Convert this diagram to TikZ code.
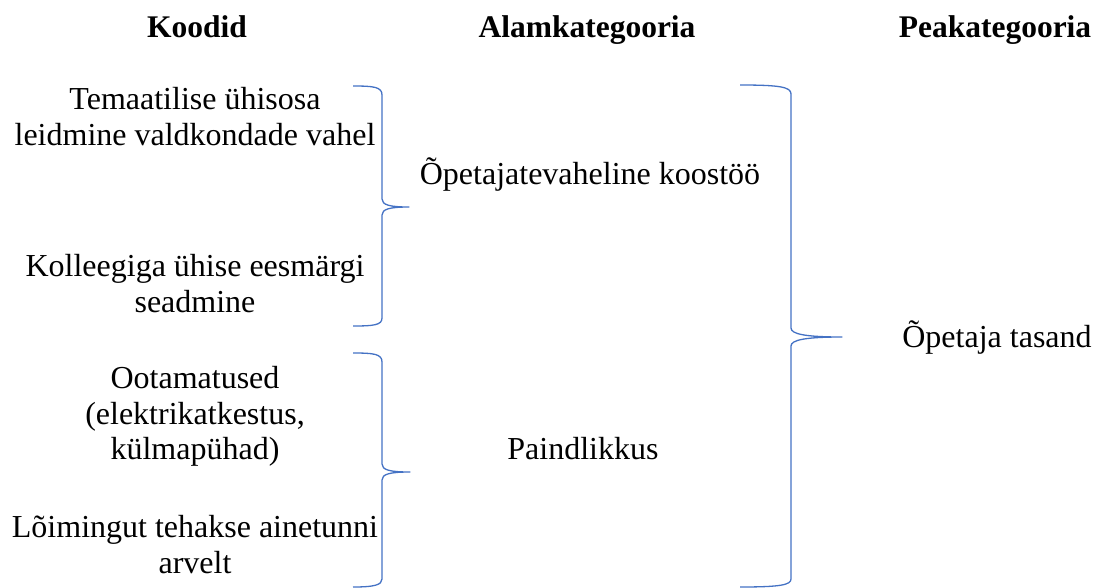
\documentclass[tikz,border=0pt]{standalone}
\usepackage{fontspec}
\setmainfont{Liberation Serif}
\definecolor{bracecol}{RGB}{68,114,196}
\begin{document}
\begin{tikzpicture}[x=1pt,y=-1pt,
  txt/.style={anchor=base,inner sep=0pt,font=\rmfamily\fontsize{32}{36}\selectfont},
  head/.style={anchor=base,inner sep=0pt,font=\rmfamily\fontsize{31.5}{36}\selectfont\bfseries},
  brace/.style={draw=bracecol,line width=1.3pt,line join=round}]
\useasboundingbox (0,0) rectangle (1096,587);
% headers
\node[head] (h1) at (197,37) {Koodid};
\node[head] (h2) at (587,37) {Alamkategooria};
\node[head] (h3) at (995,37) {Peakategooria};
% codes
\node[txt] (c1a) at (195,109) {Temaatilise ühisosa};
\node[txt] (c1b) at (195,145) {leidmine valdkondade vahel};
\node[txt] (c2a) at (195,276) {Kolleegiga ühise eesmärgi};
\node[txt] (c2b) at (195,312) {seadmine};
\node[txt] (c3a) at (195,388) {Ootamatused};
\node[txt] (c3b) at (195,424) {(elektrikatkestus,};
\node[txt] (c3c) at (195,459) {külmapühad)};
\node[txt] (c4a) at (195,537) {Lõimingut tehakse ainetunni};
\node[txt] (c4b) at (195,573) {arvelt};
% subcategories
\node[txt] (s1) at (590,184) {Õpetajatevaheline koostöö};
\node[txt] (s2) at (583,459) {Paindlikkus};
% main category
\node[txt] (m1) at (997,347) {Õpetaja tasand};
% braces
\draw[brace] (353,86) .. controls (374,86) and (382,87) .. (382,95)
  -- (382,199) .. controls (382,205) and (390,207) .. (409,207)
  .. controls (390,207) and (382,209) .. (382,215)
  -- (382,318) .. controls (382,325) and (374,326) .. (353,326);
\draw[brace] (353,353) .. controls (374,353) and (382,354) .. (382,362)
  -- (382,464) .. controls (382,470) and (390,472) .. (410,472)
  .. controls (390,472) and (382,474) .. (382,480)
  -- (382,579) .. controls (382,585) and (374,587) .. (353,587);
\draw[brace] (740,85) .. controls (780,85) and (791,87) .. (791,94)
  -- (791,328) .. controls (791,334) and (805,337) .. (842,337)
  .. controls (805,337) and (791,340) .. (791,346)
  -- (791,579) .. controls (791,585) and (780,587) .. (740,587);
\end{tikzpicture}
\end{document}
